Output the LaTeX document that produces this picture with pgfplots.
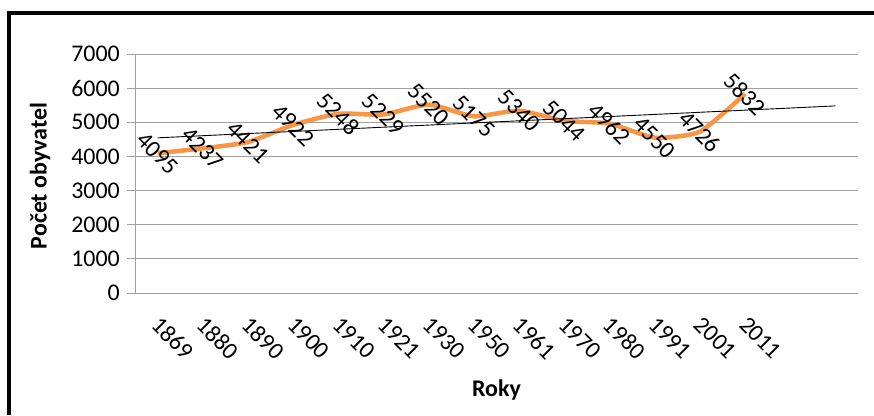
\documentclass[border=0pt]{standalone}
\usepackage{fontspec}
\setmainfont{Carlito}
\usepackage{pgfplots}
\pgfplotsset{compat=1.18}
\definecolor{lineorange}{HTML}{F79646}
\definecolor{gridgray}{HTML}{A0A0A0}

\pgfplotstableread{
x  y
0  4095
1  4237
2  4421
3  4922
4  5248
5  5229
6  5520
7  5175
8  5340
9  5044
10 4962
11 4550
12 4726
13 5832
}\populace

% linear trend, forecast two periods forward
\pgfplotstableread{
x  y
0  4544.8
15 5480.0
}\trend

\begin{document}
\begin{tikzpicture}[x=1bp,y=1bp]
\path[use as bounding box] (0,0) rectangle (874,415);
\draw[line width=4bp] (9,0) -- (9,402) -- (874,402);
\begin{axis}[
    at={(135bp,122bp)}, anchor=south west,
    scale only axis, width=723bp, height=239bp,
    xmin=-0.5, xmax=15.5, ymin=0, ymax=7000,
    ytick={0,1000,...,7000},
    xtick={0,...,13},
    xticklabels={1869,1880,1890,1900,1910,1921,1930,1950,1961,1970,1980,1991,2001,2011},
    axis lines=left,
    axis line style={-, draw=gridgray, line width=1bp},
    ymajorgrids, grid style={draw=gridgray, line width=1bp},
    tick align=outside, major tick length=8bp,
    ytick style={draw=gridgray, line width=1bp},
    xtick style={draw=none},
    font=\fontsize{24}{28}\selectfont,
    /pgf/number format/assume math mode=true,
    /pgf/number format/set thousands separator={},
    yticklabel style={inner sep=0pt, anchor=east, xshift=-7bp},
    xticklabel style={inner sep=0pt, yshift=-14bp, xshift=4bp, rotate=-45, anchor=north west},
    every axis y label/.style={at={(rel axis cs:0,0.5)}, xshift=-95bp, yshift=-2.5bp, rotate=90, anchor=center},
    every axis x label/.style={at={(rel axis cs:0.5,0)}, yshift=-97bp, anchor=center},
    ylabel={\bfseries Počet obyvatel},
    xlabel={\bfseries Roky},
    clip=false,
]
\addplot[lineorange, line width=4.5bp, smooth, tension=0.35,
    nodes near coords, point meta=explicit symbolic,
    every node near coord/.style={anchor=center, rotate=-45, inner sep=0pt, text=black, font=\fontsize{24}{28}\selectfont}]
    table[x=x, y=y, meta=y] {\populace};
\addplot[black, line width=0.9bp] table[x=x, y=y] {\trend};
\end{axis}
\end{tikzpicture}
\end{document}
